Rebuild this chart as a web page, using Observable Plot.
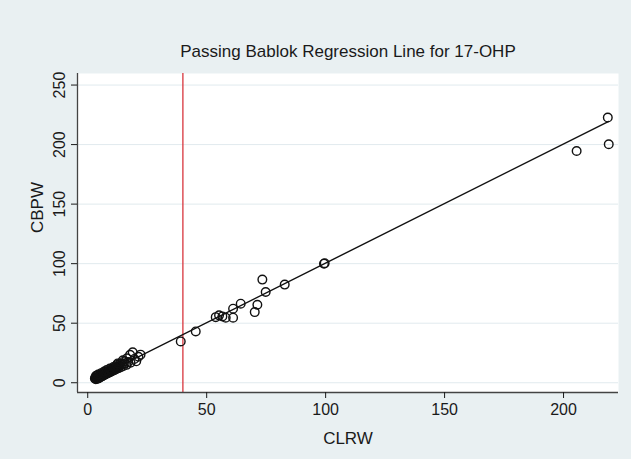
<!DOCTYPE html>
<html><head><meta charset="utf-8">
<script src="https://cdn.jsdelivr.net/npm/d3@7"></script>
<script src="https://cdn.jsdelivr.net/npm/@observablehq/plot@0.6"></script>
<style>
html,body{margin:0;padding:0;background:#e9f0f2;}
</style></head><body><div id="chart"></div>
<script>
const title = "Passing Bablok Regression Line for 17-OHP";
const xLabel = "CLRW";
const yLabel = "CBPW";
const xTicks = [0, 50, 100, 150, 200];
const yTicks = [0, 50, 100, 150, 200, 250];
const xDomain = [-4.3, 223.1];
const yDomain = [-8.2, 259.7];
const cutoff = 40;
const intercept = 0.5;
const slope = 1.0;

// CLRW (x) and CBPW (y) paired observations
const clrw = [
  3.0, 3.2, 3.4, 3.6, 3.8, 4.0, 4.1, 4.3, 4.5, 4.6, 4.8, 5.0, 5.1, 5.3, 5.5, 5.7, 5.9, 6.0, 6.2, 6.4,
  6.6, 6.8, 7.0, 7.2, 7.4, 7.6, 7.9, 8.1, 8.3, 8.6, 8.8, 9.1, 9.4, 9.7, 10.0, 10.3, 10.6, 11.0, 11.3, 11.7,
  12.1, 12.5, 12.9, 13.4, 13.9, 14.4, 15.0, 15.6, 16.3, 17.0,
  3.5, 4.4, 5.6, 6.9, 8.0, 9.3, 10.8, 12.2, 13.6, 15.3,
  14.8, 16.5, 17.8, 18.9, 19.6, 20.4, 21.3, 22.2, 12.6, 18.0,
  39.1, 45.4, 53.8, 55.2, 56.6, 58.0, 61.1, 61.1, 64.3, 70.2, 71.3, 73.4, 74.8, 82.8, 99.3, 99.6,
  205.5, 218.6, 219.0
];
const cbpw = [
  3.5, 4.4, 3.0, 4.0, 3.3, 4.9, 3.8, 4.5, 3.6, 5.2, 4.2, 5.6, 4.7, 6.0, 5.0, 6.4, 5.3, 6.8, 5.8, 7.1,
  6.1, 7.6, 6.7, 8.0, 7.0, 8.4, 7.5, 8.9, 7.9, 9.5, 8.4, 10.0, 8.9, 10.7, 9.6, 11.3, 10.1, 12.0, 10.8, 12.7,
  11.5, 13.4, 12.3, 14.3, 13.0, 15.1, 14.0, 16.2, 15.0, 17.5,
  5.8, 6.9, 8.0, 9.4, 10.6, 11.9, 13.2, 14.8, 16.1, 17.9,
  18.8, 20.5, 23.4, 25.6, 20.0, 18.0, 21.8, 23.6, 16.2, 16.8,
  34.7, 43.1, 55.1, 56.6, 55.7, 54.6, 62.2, 54.6, 66.4, 59.3, 65.5, 86.6, 76.2, 82.4, 100.0, 100.4,
  194.6, 222.7, 200.3
];

const points = clrw.map((x, i) => ({x, y: cbpw[i]}));
const fit = [d3.min(clrw), d3.max(clrw)].map(x => ({x, y: intercept + slope * x}));

const font = "'Liberation Sans', Arial, Helvetica, sans-serif";
const chart = Plot.plot({
  width: 631,
  height: 459,
  marginLeft: 77,
  marginRight: 13,
  marginTop: 73,
  marginBottom: 67,
  style: {background: "#e9f0f2", fontFamily: font, color: "#1a1a1a"},
  x: {domain: xDomain},
  y: {domain: yDomain},
  marks: [
    Plot.frame({fill: "white", stroke: "none"}),
    Plot.gridY(yTicks, {stroke: "#e1eaee", strokeOpacity: 1}),
    Plot.ruleX([cutoff], {stroke: "#d8343c", strokeWidth: 1.3}),
    Plot.line(fit, {x: "x", y: "y", stroke: "#111", strokeWidth: 1.4}),
    Plot.dot(points, {x: "x", y: "y", r: 4.3, stroke: "#111", strokeWidth: 1.4, fill: "none"}),
    Plot.ruleY([yDomain[0]], {stroke: "#444", strokeWidth: 1.3}),
    Plot.ruleX([xDomain[0]], {stroke: "#444", strokeWidth: 1.3}),
    Plot.axisX({ticks: xTicks, tickSize: 6, tickPadding: 5, fontSize: 16, label: null}),
    Plot.axisY({ticks: yTicks, tickSize: 6, tickPadding: 7, tickRotate: -90, fontSize: 16, label: null}),
    Plot.text([title], {text: d => d, frameAnchor: "top", dy: -17, lineAnchor: "bottom", fontSize: 17}),
    Plot.text([xLabel], {text: d => d, frameAnchor: "bottom", dy: 46, lineAnchor: "middle", fontSize: 17}),
    Plot.text([yLabel], {text: d => d, frameAnchor: "left", dx: -40, rotate: -90, lineAnchor: "middle", fontSize: 17})
  ]
});
document.getElementById("chart").appendChild(chart);
</script>
</body></html>
